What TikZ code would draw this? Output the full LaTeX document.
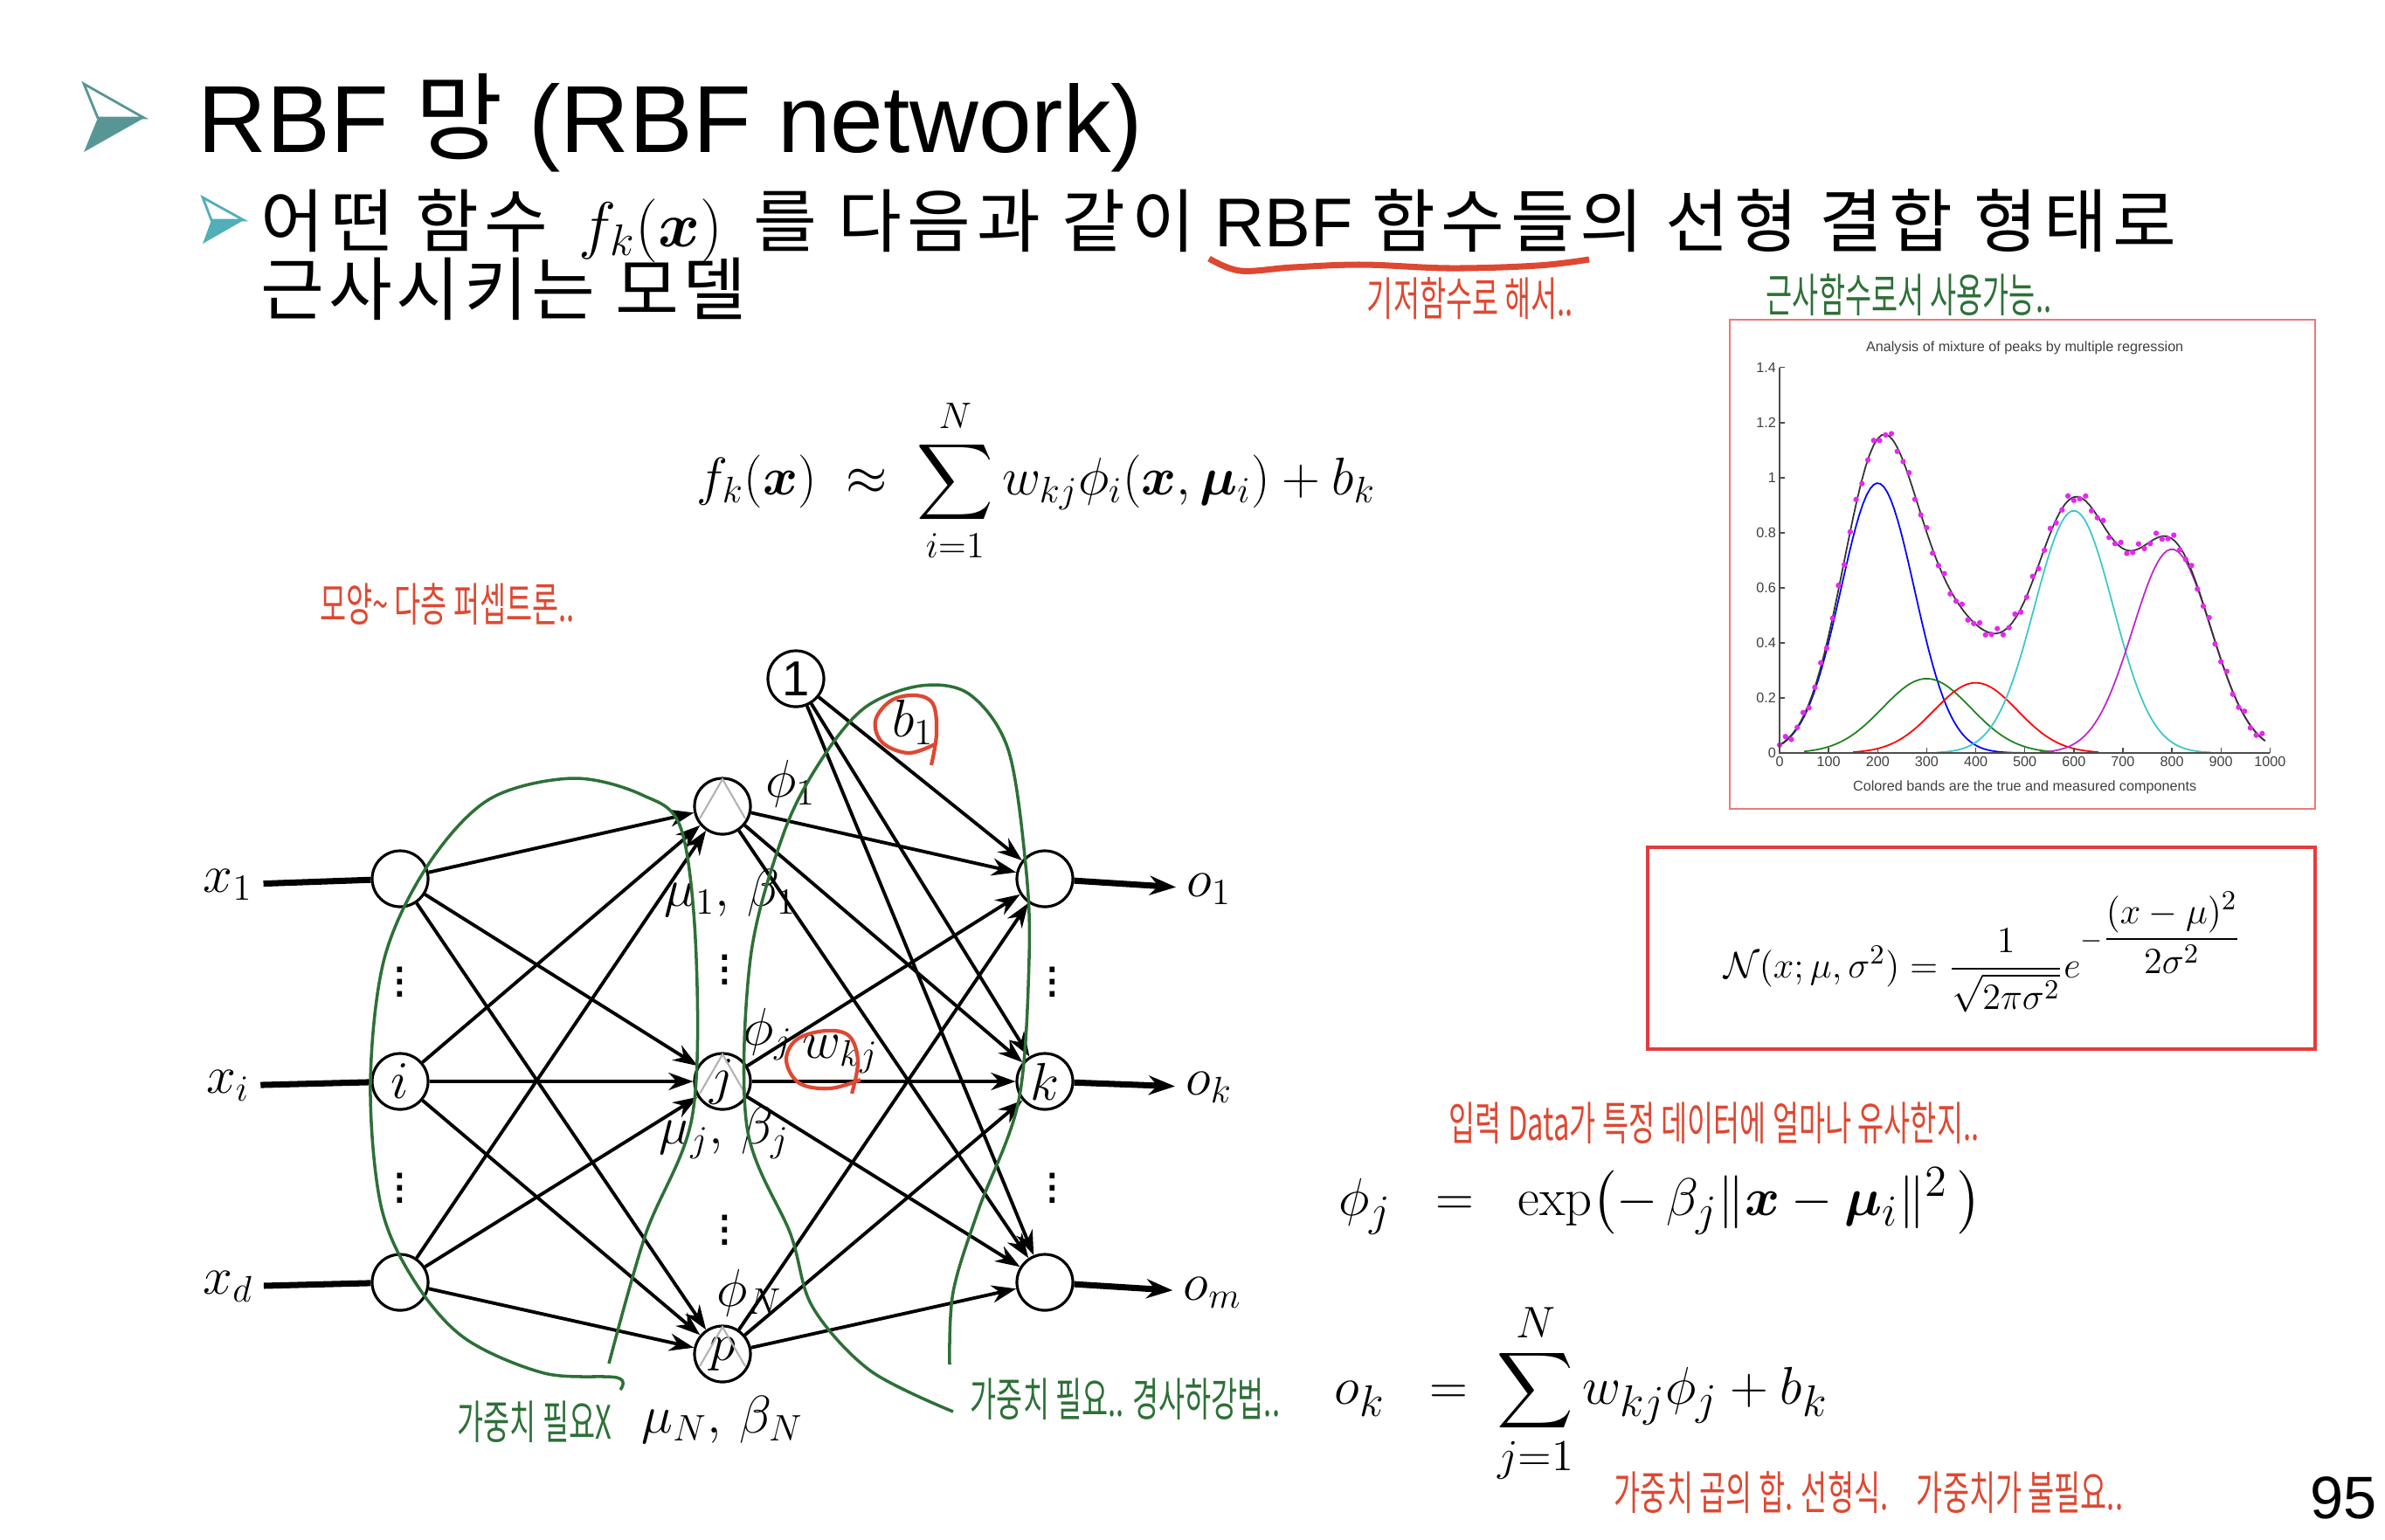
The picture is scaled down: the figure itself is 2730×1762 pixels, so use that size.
\documentclass[tikz,border=0pt]{standalone}
\usepackage[no-math]{fontspec}
\usepackage{amsmath,bm}
\usepackage{graphicx}
\setmainfont{Liberation Sans}
\newfontfamily\kr{Noto Sans CJK KR}
\newfontfamily\krwide[LetterSpace=6]{Noto Sans CJK KR}
\newfontfamily\krwider[LetterSpace=8.5]{Noto Sans CJK KR}
\usetikzlibrary{arrows.meta,calc}

\definecolor{teal dark}{RGB}{88,150,150}
\definecolor{teal light}{RGB}{80,175,185}
\definecolor{pen red}{RGB}{222,72,50}
\definecolor{pen green}{RGB}{45,112,55}
\definecolor{box red}{RGB}{228,60,60}
\definecolor{frame red}{RGB}{238,120,120}
\definecolor{fit cyan}{RGB}{60,200,200}
\definecolor{fit green}{RGB}{30,130,30}
\definecolor{fit mag}{RGB}{190,40,200}
\definecolor{dot mag}{RGB}{230,40,240}

\newcommand{\squeeze}[1]{\scalebox{0.62}[1]{#1}}

\tikzset{
  neuron/.style={draw, circle, line width=0.9pt, minimum size=0.64cm, inner sep=0pt, font=\fontsize{16}{18}\selectfont},
  wire/.style={line width=1.1pt, -{Stealth[length=2.8mm,width=2mm]}},
  feed/.style={line width=2pt},
  lab/.style={font=\fontsize{17}{20}\selectfont},
  formula/.style={font=\fontsize{19}{23}\selectfont},
  note/.style={font=\kr\fontsize{15}{18}\selectfont},
  pen/.style={line width=1pt},
  tick/.style={font=\fontsize{4.6}{5}\selectfont, inner sep=1pt, text=black!75},
}

\begin{document}
\begin{tikzpicture}[x=0.01cm, y=-0.01cm,
  declare function={
    gb(\x)=0.98*exp(-((\x-2)^2)/1.125);
    gg(\x)=0.27*exp(-((\x-3)^2)/1.62);
    gr(\x)=0.255*exp(-((\x-4)^2)/1.445);
    gc(\x)=0.88*exp(-((\x-6)^2)/1.28);
    gm(\x)=0.74*exp(-((\x-8)^2)/1.28);
    gs(\x)=gb(\x)+gg(\x)+gr(\x)+gc(\x)+gm(\x);
  }]
\useasboundingbox (0,0) rectangle (2730,1762);

% title and bullet
\fill[teal dark] (96,174) -- (165,135) -- (112,135) -- cycle;
\filldraw[fill=white, draw=teal dark, line width=0.8pt] (96,96) -- (165,135) -- (112,135) -- cycle;
\node[anchor=base west, font=\fontsize{31}{36}\selectfont, inner sep=0pt] (title) at (226,174) {RBF {\kr 망} (RBF network)};
\fill[teal light] (232,279) -- (279,252) -- (242,252) -- cycle;
\filldraw[fill=white, draw=teal light, line width=0.8pt] (232,226) -- (279,252) -- (242,252) -- cycle;
\node[anchor=base west, font=\fontsize{22.5}{27}\selectfont, inner sep=0pt] (sub1) at (298,282)
  {{\krwider 어떤 함수}\ \,$f_k(\bm{x})$\ \,{\krwider 를 다음과 같이} RBF {\krwider 함수들의 선형 결합 형태로}};
\node[anchor=base west, font=\krwide\fontsize{22.5}{27}\selectfont, inner sep=0pt] (sub2) at (298,360) {근사시키는 모델};
\draw[pen red, line width=2pt] plot[smooth, tension=0.6] coordinates {(1384,296) (1420,310) (1480,306) (1560,303) (1660,307) (1760,304) (1819,297)};

% handwritten notes
\node[note, text=pen red] (nbasis) at (1683,342) {\squeeze{기저함수로 해서..}};
\node[note, text=pen green] (napprox) at (2185,338) {\squeeze{근사함수로서 사용가능..}};
\node[note, text=pen red] (nmlp) at (512,692) {\squeeze{모양\textasciitilde{} 다층 퍼셉트론..}};
\node[note, text=pen green] (nnow) at (612,1628) {\squeeze{가중치 필요X}};
\node[note, text=pen green] (nneed) at (1288,1602) {\squeeze{가중치 필요.. 경사하강법..}};
\node[note, text=pen red] (nsim) at (1962,1286) {\squeeze{입력 Data가 특정 데이터에 얼마나 유사한지..}};
\node[note, text=pen red] (nsum) at (2139,1709) {\squeeze{가중치 곱의 합. 선형식.\quad 가중치가 불필요..}};

% formulas
\node[font=\fontsize{18}{22}\selectfont] (fmodel) at (1186,550) {$\displaystyle f_k(\bm{x})\;\approx\;\sum_{i=1}^{N} w_{kj}\phi_i(\bm{x},\bm{\mu}_i)+b_k$};
\node[formula] (fphi) at (1900,1375) {$\phi_j\;\;=\;\;\exp\bigl(-\,\beta_j\|\bm{x}-\bm{\mu}_i\|^2\,\bigr)$};
\node[formula] (fout) at (1810,1595) {$\displaystyle o_k\;\;=\;\sum_{j=1}^{N} w_{kj}\phi_j+b_k$};
\node[font=\fontsize{13}{15}\selectfont] (fgauss) at (2270,1090)
  {$\mathcal{N}(x;\mu,\sigma^2)=\dfrac{1}{\sqrt{2\pi\sigma^2}}e^{-\displaystyle\frac{(x-\mu)^2}{2\sigma^2}}$};
\draw[box red, line width=1pt] (1886,970) rectangle (2650,1201);

% network
\node[neuron] (in1) at (458,1006) {};
\node[neuron] (ini) at (458,1238) {$i$};
\node[neuron] (ind) at (458,1468) {};
\node[neuron] (h1) at (827,923) {};
\node[neuron] (hj) at (827,1238) {$j$};
\node[neuron] (hN) at (827,1550) {$p$};
\node[neuron] (bias) at (911,777) {1};
\node[neuron] (out1) at (1196,1006) {};
\node[neuron] (outk) at (1196,1238) {$k$};
\node[neuron] (outm) at (1196,1468) {};
\foreach \h in {h1,hj,hN}
  \draw[gray!60, line width=0.6pt] ($(\h)+(-26,14)$) -- ($(\h)+(0,-31)$) -- ($(\h)+(26,14)$);

\node[lab] (lx1) at (261,1013) {$x_1$};
\node[lab] (lxi) at (261,1243) {$x_i$};
\node[lab] (lxd) at (261,1473) {$x_d$};
\node[lab] (lo1) at (1384,1018) {$o_1$};
\node[lab] (lok) at (1384,1245) {$o_k$};
\node[lab] (lom) at (1388,1480) {$o_m$};
\foreach \a/\b in {lx1/in1,lxi/ini,lxd/ind}
  \draw[feed] (\a) -- (\b);
\foreach \a/\b in {out1/lo1,outk/lok,outm/lom}
  \draw[feed, -{Stealth[length=3mm,width=2.2mm]}] (\a) -- (\b);

\foreach \a in {in1,ini,ind}
  \foreach \b in {h1,hj,hN}
    \draw[wire] (\a) -- (\b);
\foreach \a in {h1,hj,hN,bias}
  \foreach \b in {out1,outk,outm}
    \draw[wire] (\a) -- (\b);

\node[lab] (phi1) at (905,897) {$\phi_1$};
\node[lab] (mb1) at (836,1022) {$\mu_1,\,\beta_1$};
\node[lab] (phij) at (879,1184) {$\phi_j$};
\node[lab] (mbj) at (829,1297) {$\mu_j,\,\beta_j$};
\node[lab] (phiN) at (858,1480) {$\phi_N$};
\node[lab] (mbN) at (827,1625) {$\mu_N,\,\beta_N$};
\node[lab] (lb1) at (1045,827) {$b_1$};
\node[lab] (lwkj) at (962,1207) {$w_{kj}$};
\node[lab] (d1) at (458,1114) {$\vdots$};
\node[lab] (d2) at (458,1350) {$\vdots$};
\node[lab] (d3) at (830,1100) {$\vdots$};
\node[lab] (d4) at (830,1398) {$\vdots$};
\node[lab] (d5) at (1205,1114) {$\vdots$};
\node[lab] (d6) at (1205,1350) {$\vdots$};

% pen marks
\draw[pen, pen green] plot[smooth, tension=0.55] coordinates {(710,1591) (706,1577) (623,1572) (532,1532) (474,1466) (436,1380) (424,1240) (440,1097) (490,990) (560,915) (655,891) (735,910) (780,950) (797,1097) (792,1280) (739,1413) (697,1561)};
\draw[pen, pen green] plot[smooth, tension=0.55] coordinates {(1087,1562) (1091,1479) (1120,1385) (1166,1260) (1178,1097) (1174,990) (1154,858) (1110,795) (1054,785) (990,810) (940,870) (897,954) (859,1097) (855,1290) (905,1413) (930,1496) (996,1569) (1091,1616)};
\draw[pen, pen red, line width=1.2pt] plot[smooth, tension=0.6] coordinates {(1066,876) (1072,840) (1068,806) (1048,796) (1020,802) (1002,825) (1010,850) (1040,862) (1070,852)};
\draw[pen, pen red, line width=1.2pt] plot[smooth, tension=0.6] coordinates {(975,1252) (982,1215) (972,1186) (945,1180) (912,1190) (900,1214) (915,1240) (950,1246) (985,1236)};

% peak mixture plot
\draw[frame red, line width=0.6pt] (1980,366) rectangle (2650,926);
\begin{scope}[shift={(2037,862)}, x=0.561cm, y=3.15cm]
  \draw[blue, line width=0.5pt] plot[domain=0:5.6, samples=80] (\x,{gb(\x)});
  \draw[fit green, line width=0.5pt] plot[domain=0.5:5.6, samples=70] (\x,{gg(\x)});
  \draw[red, line width=0.5pt] plot[domain=1.5:6.5, samples=70] (\x,{gr(\x)});
  \draw[fit cyan, line width=0.5pt] plot[domain=3.2:8.8, samples=80] (\x,{gc(\x)});
  \draw[fit mag, line width=0.5pt] plot[domain=5.3:9.9, samples=70] (\x,{gm(\x)});
  \draw[black!80, line width=0.5pt] plot[domain=0:9.9, samples=120] (\x,{gs(\x)});
  \foreach \x [evaluate=\x as \y using {gs(\x)+0.018*sin(\x*997)}] in {0,0.12,...,9.9}
    \fill[dot mag] (\x,\y) circle (0.9pt);
  \draw[black!70, line width=0.4pt] (0,1.4) -- (0,0) -- (10,0);
  \foreach \v in {0,0.2,0.4,0.6,0.8,1,1.2,1.4} {
    \draw[black!70, line width=0.4pt] (0,\v) -- (0.1,\v);
    \node[tick, anchor=east] (yt\v) at (0,\v) {\v};
  }
  \foreach \t [evaluate=\t as \n using int(100*\t)] in {0,...,10} {
    \draw[black!70, line width=0.4pt] (\t,0) -- (\t,0.02);
    \node[tick, anchor=north] (xt\t) at (\t,0) {\n};
  }
  \node[tick] (ptitle) at (5,1.47) {Analysis of mixture of peaks by multiple regression};
  \node[tick] (pcap) at (5,-0.125) {Colored bands are the true and measured components};
\end{scope}

\node[anchor=base east, font=\fontsize{19.5}{22}\selectfont, inner sep=0pt] (pagenum) at (2721,1738) {95};
\end{tikzpicture}
\end{document}
